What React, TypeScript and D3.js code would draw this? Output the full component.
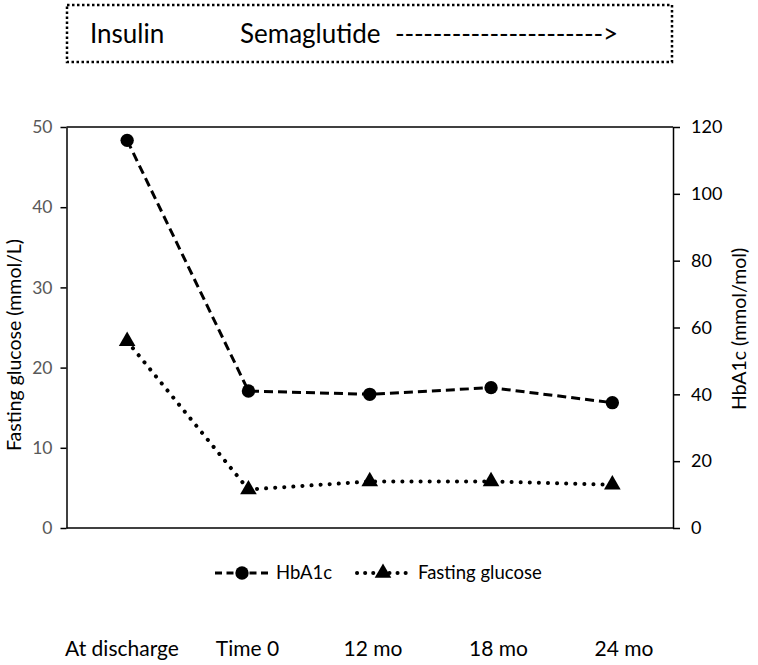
import React, { useEffect, useRef } from 'react';
import * as d3 from 'd3';

const categories = ['At discharge', 'Time 0', '12 mo', '18 mo', '24 mo'];
const hba1cValues = [116, 41, 40, 42, 37.5];
const glucoseValues = [23.3, 4.8, 5.8, 5.8, 5.4];
const leftTicks = [0, 10, 20, 30, 40, 50];
const rightTicks = [0, 20, 40, 60, 80, 100, 120];
const seriesNames = ['HbA1c', 'Fasting glucose'];
const bannerWords = ['Insulin', 'Semaglutide', '---------------------->'];

const W = 758;
const H = 665;
const FONT = "Lato, 'Noto Sans', sans-serif";

const plot = { left: 66.5, right: 673, top: 127, bottom: 528 };

const App: React.FC = () => {
  const leftAxisRef = useRef<SVGGElement>(null);
  const rightAxisRef = useRef<SVGGElement>(null);

  // Scales
  const x = d3.scalePoint<string>()
    .domain(categories)
    .range([plot.left, plot.right])
    .padding(0.5);

  const labelX = d3.scalePoint<string>()
    .domain(categories)
    .range([122, 624]);

  const yLeft = d3.scaleLinear().domain([0, 50]).range([plot.bottom, plot.top]);
  const yRight = d3.scaleLinear().domain([0, 120]).range([plot.bottom, plot.top]);

  const hbaLine = d3.line<number>()
    .x((_, i) => x(categories[i]) as number)
    .y(d => yRight(d));

  const gluLine = d3.line<number>()
    .x((_, i) => x(categories[i]) as number)
    .y(d => yLeft(d));

  const circle = d3.symbol().type(d3.symbolCircle).size(140)() as string;
  const triangle = d3.symbol().type(d3.symbolTriangle).size(120)() as string;

  useEffect(() => {
    if (!leftAxisRef.current || !rightAxisRef.current) return;

    const left = d3.select(leftAxisRef.current);
    left.selectAll('*').remove();
    left.call(
      d3.axisLeft(yLeft).tickValues(leftTicks).tickSize(6).tickSizeOuter(0).tickPadding(8)
    );
    left.select('.domain').attr('stroke', '#000').attr('stroke-width', 1.5);
    left.selectAll('.tick line').attr('stroke', '#000').attr('stroke-width', 1.5);
    left.selectAll('.tick text')
      .attr('fill', '#595959')
      .style('font-family', FONT)
      .style('font-size', '17.5px');

    const right = d3.select(rightAxisRef.current);
    right.selectAll('*').remove();
    right.call(
      d3.axisRight(yRight).tickValues(rightTicks).tickSize(7).tickSizeOuter(0).tickPadding(11)
    );
    right.select('.domain').attr('stroke', '#000').attr('stroke-width', 1.5);
    right.selectAll('.tick line').attr('stroke', '#000').attr('stroke-width', 1.5);
    right.selectAll('.tick text')
      .attr('fill', '#000')
      .style('font-family', FONT)
      .style('font-size', '18px');
  }, []);

  return (
    <svg
      width={W}
      height={H}
      style={{ position: 'absolute', left: 0, top: 0, background: '#fff' }}
      fontFamily={FONT}
    >
      {/* Treatment banner */}
      <rect x={67} y={5} width={605} height={57} fill="none" stroke="#000"
        strokeWidth={2.5} strokeDasharray="2.5 2.5" />
      <text x={90} y={43} fontSize={26}>{bannerWords[0]}</text>
      <text x={240} y={43} fontSize={26}>{bannerWords[1]}</text>
      <text x={395} y={43} fontSize={26} textLength={223} lengthAdjust="spacing">{bannerWords[2]}</text>

      {/* Plot frame */}
      <line x1={plot.left} x2={plot.right} y1={plot.top} y2={plot.top} stroke="#000" strokeWidth={1.5} />
      <line x1={plot.left} x2={plot.right} y1={plot.bottom} y2={plot.bottom} stroke="#000" strokeWidth={1.5} />
      <g ref={leftAxisRef} transform={`translate(${plot.left},0)`} />
      <g ref={rightAxisRef} transform={`translate(${plot.right},0)`} />

      {/* Series */}
      <path d={hbaLine(hba1cValues) as string} fill="none" stroke="#000" strokeWidth={3}
        strokeDasharray="9 5" />
      <path d={gluLine(glucoseValues) as string} fill="none" stroke="#000" strokeWidth={4}
        strokeDasharray="0.1 9" strokeLinecap="round" />
      {hba1cValues.map((v, i) => (
        <path key={`c${i}`} d={circle} transform={`translate(${x(categories[i])},${yRight(v)})`} fill="#000" />
      ))}
      {glucoseValues.map((v, i) => (
        <path key={`t${i}`} d={triangle} transform={`translate(${x(categories[i])},${yLeft(v)})`} fill="#000" />
      ))}

      {/* Axis titles */}
      <text transform="translate(21,345) rotate(-90)" textAnchor="middle" fontSize={19.5}>
        Fasting glucose (mmol/L)
      </text>
      <text transform="translate(746,329) rotate(-90)" textAnchor="middle" fontSize={19.5}>
        HbA1c (mmol/mol)
      </text>

      {/* Legend */}
      <g transform="translate(0,573)">
        <line x1={215} x2={270} y1={0} y2={0} stroke="#000" strokeWidth={3} strokeDasharray="7 4.5" />
        <path d={circle} transform="translate(242,0)" fill="#000" />
        <text x={276} y={0} dy="0.35em" fontSize={18.5}>{seriesNames[0]}</text>
        <line x1={357} x2={408} y1={0} y2={0} stroke="#000" strokeWidth={4}
          strokeDasharray="0.1 8" strokeLinecap="round" />
        <path d={triangle} transform="translate(383,0)" fill="#000" />
        <text x={418} y={0} dy="0.35em" fontSize={18.5}>{seriesNames[1]}</text>
      </g>

      {/* Category labels */}
      {categories.map(c => (
        <text key={c} x={labelX(c)} y={656} textAnchor="middle" fontSize={21}>{c}</text>
      ))}
    </svg>
  );
};

export default App;
